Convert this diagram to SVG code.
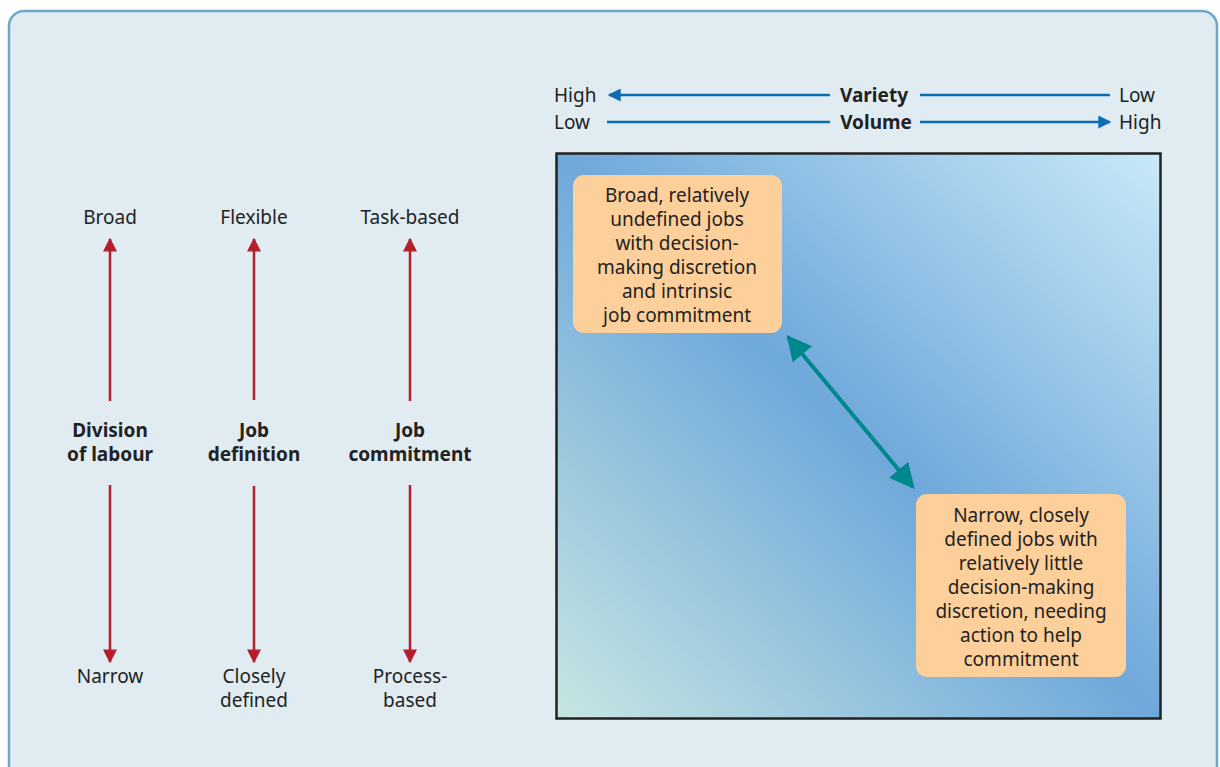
<svg xmlns="http://www.w3.org/2000/svg" width="1220" height="767" viewBox="0 0 1220 767">
<style>
text{font-family:"Noto Sans","Open Sans","Liberation Sans",sans-serif;font-size:19px;fill:#222;text-anchor:middle}
.b{font-weight:bold}
.l{text-anchor:start}
.red{stroke:#b3202c;stroke-width:2.5;fill:none}
.blue{stroke:#0a6db3;stroke-width:2.5;fill:none}
.box{fill:#fdd09b}
</style>
<defs>
<linearGradient id="bg" x1="0" y1="1" x2="1" y2="0">
<stop offset="0" stop-color="#c6e6e2"/>
<stop offset="0.5" stop-color="#6fa8da"/>
<stop offset="1" stop-color="#c8e9f8"/>
</linearGradient>
<marker id="ar" viewBox="0 0 10 10" refX="9" refY="5" markerWidth="14" markerHeight="14" orient="auto-start-reverse" markerUnits="userSpaceOnUse"><path d="M0,0L10,5L0,10z" fill="#b3202c"/></marker>
<marker id="ab" viewBox="0 0 10 10" refX="9" refY="5" markerWidth="14" markerHeight="13" orient="auto-start-reverse" markerUnits="userSpaceOnUse"><path d="M0,0L10,5L0,10z" fill="#0a6db3"/></marker>
<marker id="at" viewBox="0 0 10 10" refX="9" refY="5" markerWidth="25" markerHeight="25" orient="auto-start-reverse" markerUnits="userSpaceOnUse"><path d="M0,0L10,5L0,10z" fill="#00878c"/></marker>
</defs>
<rect x="9" y="11" width="1208" height="770" rx="15" fill="#e0ebf2" stroke="#6ea8c4" stroke-width="2.5"/>

<g id="axes">
<text class="l" x="554" y="102">High</text>
<text class="b" x="874" y="102">Variety</text>
<text class="l" x="1119" y="102">Low</text>
<text class="l" x="554" y="129">Low</text>
<text class="b" x="876" y="129">Volume</text>
<text class="l" x="1119" y="129">High</text>
</g>

<rect id="matrix" x="556.5" y="153.5" width="604" height="565" fill="url(#bg)" stroke="#222" stroke-width="2.5"/>

<g id="connectors">
<line class="blue" x1="830" y1="95" x2="609" y2="95" marker-end="url(#ab)"/>
<line class="blue" x1="920" y1="95" x2="1110" y2="95"/>
<line class="blue" x1="607" y1="122" x2="830" y2="122"/>
<line class="blue" x1="920" y1="122" x2="1110" y2="122" marker-end="url(#ab)"/>
<line class="red" x1="110" y1="401" x2="110" y2="239" marker-end="url(#ar)"/>
<line class="red" x1="254" y1="400" x2="254" y2="239" marker-end="url(#ar)"/>
<line class="red" x1="410" y1="401" x2="410" y2="239" marker-end="url(#ar)"/>
<line class="red" x1="110" y1="485" x2="110" y2="662" marker-end="url(#ar)"/>
<line class="red" x1="254" y1="486" x2="254" y2="662" marker-end="url(#ar)"/>
<line class="red" x1="410" y1="485" x2="410" y2="662" marker-end="url(#ar)"/>
<line x1="788" y1="337" x2="913" y2="487" stroke="#00878c" stroke-width="4" marker-start="url(#at)" marker-end="url(#at)"/>
</g>

<g id="col1">
<text x="110" y="224">Broad</text>
<text class="b" x="110" y="437">Division</text>
<text class="b" x="110" y="461">of labour</text>
<text x="110" y="683">Narrow</text>
</g>
<g id="col2">
<text x="254" y="224">Flexible</text>
<text class="b" x="254" y="437">Job</text>
<text class="b" x="254" y="461">definition</text>
<text x="254" y="683">Closely</text>
<text x="254" y="707">defined</text>
</g>
<g id="col3">
<text x="410" y="224">Task-based</text>
<text class="b" x="410" y="437">Job</text>
<text class="b" x="410" y="461">commitment</text>
<text x="410" y="683">Process-</text>
<text x="410" y="707">based</text>
</g>

<g id="broad">
<rect class="box" x="573" y="175" width="209" height="158" rx="11"/>
<text x="677" y="202">Broad, relatively</text>
<text x="677" y="226">undefined jobs</text>
<text x="677" y="250">with decision-</text>
<text x="677" y="274">making discretion</text>
<text x="677" y="298">and intrinsic</text>
<text x="677" y="322">job commitment</text>
</g>
<g id="narrow">
<rect class="box" x="916" y="494" width="210" height="183" rx="11"/>
<text x="1021" y="522">Narrow, closely</text>
<text x="1021" y="546">defined jobs with</text>
<text x="1021" y="570">relatively little</text>
<text x="1021" y="594">decision-making</text>
<text x="1021" y="618">discretion, needing</text>
<text x="1021" y="642">action to help</text>
<text x="1021" y="666">commitment</text>
</g>
</svg>
